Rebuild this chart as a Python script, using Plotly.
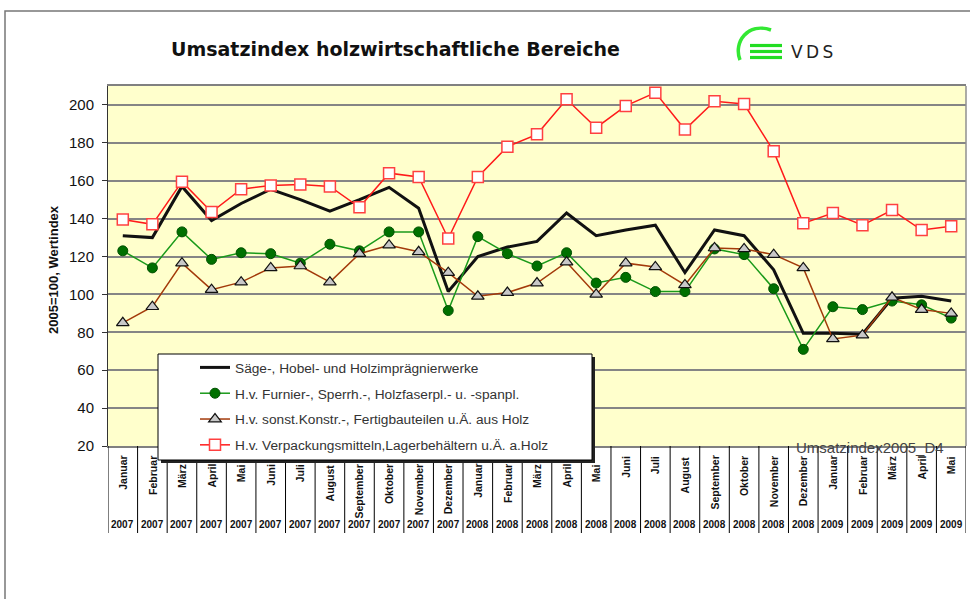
import plotly.graph_objects as go

months = ["Januar", "Februar", "März", "April", "Mai", "Juni", "Juli", "August",
          "September", "Oktober", "November", "Dezember",
          "Januar", "Februar", "März", "April", "Mai", "Juni", "Juli", "August",
          "September", "Oktober", "November", "Dezember",
          "Januar", "Februar", "März", "April", "Mai"]
years = ["2007"] * 12 + ["2008"] * 12 + ["2009"] * 5

saege = [131, 130, 157, 139, 148, 155.5, 150, 144, 150, 156.5, 145.5, 101.5,
         120, 125, 128, 143, 131, 134, 136.5, 111.5, 134, 131, 113, 79.5,
         79.5, 79, 98, 99, 96.5]
furnier = [123, 114, 133, 118.5, 122, 121.5, 116.5, 126.5, 123, 133, 133, 91.5,
           130.5, 121.5, 115, 122, 106, 109, 101.5, 101.5, 124, 121, 103, 71,
           93.5, 92, 96.5, 94.5, 87.5]
konstr = [85, 93.5, 116.5, 102.5, 106.5, 114, 115, 106.5, 121.5, 126, 122.5, 111.5,
          99, 101, 106, 117, 100, 116.5, 114.5, 105, 124.5, 124, 121, 114,
          76.5, 78.5, 98.5, 92, 90]
verpack = [139.5, 137, 159.5, 143.5, 155.5, 157.5, 158, 157, 146, 164, 162, 129.5,
           162, 178, 184.5, 203, 188, 199.5, 206.5, 187, 202, 200.5, 175.5, 137.5,
           143, 136.5, 144.5, 134, 136]

names = ["Säge-, Hobel- und Holzimprägnierwerke",
         "H.v. Furnier-, Sperrh.-, Holzfaserpl.- u. -spanpl.",
         "H.v. sonst.Konstr.-, Fertigbauteilen u.Ä. aus Holz",
         "H.v. Verpackungsmitteln,Lagerbehältern u.Ä. a.Holz"]

W, H = 970, 599
L, R, T, B = 108, 966, 86, 446


def xp(px):
    return (px - L) / (R - L)


def yp(py):
    return (B - py) / (B - T)


xs = list(range(len(months)))
fig = go.Figure()
fig.add_trace(go.Scatter(x=xs, y=saege, name=names[0], mode="lines",
                         line=dict(color="#111111", width=3), legendgroup="a"))
fig.add_trace(go.Scatter(x=xs, y=furnier, name=names[1], mode="lines+markers",
                         line=dict(color="#1a9a1a", width=1.5),
                         marker=dict(symbol="circle", size=10, color="#007000",
                                     line=dict(color="#005000", width=1)),
                         legendgroup="b"))
fig.add_trace(go.Scatter(x=xs, y=konstr, name=names[2], mode="lines+markers",
                         line=dict(color="#a33a0a", width=1.5),
                         marker=dict(symbol="triangle-up", size=11, color="#c8c8c8",
                                     line=dict(color="#111111", width=1.2)),
                         legendgroup="c"))
fig.add_trace(go.Scatter(x=xs, y=verpack, name=names[3], mode="lines+markers",
                         line=dict(color="#ff1a1a", width=1.5),
                         marker=dict(symbol="square", size=11, color="white",
                                     line=dict(color="#ff4040", width=1.5)),
                         legendgroup="d"))

lx0, lx1, ly0, ly1 = 158, 592, 354, 460

shapes = []
# outer frame
shapes.append(dict(type="rect", xref="paper", yref="paper",
                   x0=xp(5), x1=xp(990), y0=yp(620), y1=yp(11),
                   line=dict(color="#777777", width=1.5), layer="below"))
# right border of plot
shapes.append(dict(type="line", xref="paper", yref="paper",
                   x0=1, x1=1, y0=0, y1=1, line=dict(color="#909090", width=1.5)))
# category separators
for i in range(len(months) + 1):
    shapes.append(dict(type="line", xref="x", yref="paper",
                       x0=i - 0.5, x1=i - 0.5, y0=0, y1=yp(533),
                       line=dict(color="#000000", width=1)))
# legend box with shadow
shapes.append(dict(type="rect", xref="paper", yref="paper",
                   x0=xp(lx0 + 3), x1=xp(lx1 + 3), y0=yp(ly1 + 3), y1=yp(ly0 + 3),
                   fillcolor="#222222", line=dict(width=0), layer="above"))
shapes.append(dict(type="rect", xref="paper", yref="paper",
                   x0=xp(lx0), x1=xp(lx1), y0=yp(ly1), y1=yp(ly0),
                   fillcolor="white", line=dict(color="#000000", width=1), layer="above"))
# VDS logo
shapes.append(dict(type="path", xref="paper", yref="paper",
                   path=f"M {xp(771)},{yp(30)} C {xp(748)},{yp(22)} {xp(733)},{yp(42)} {xp(740)},{yp(60)}",
                   line=dict(color="#33e833", width=3.5)))
for yy in (45.5, 51.5, 57.5):
    shapes.append(dict(type="rect", xref="paper", yref="paper",
                       x0=xp(750), x1=xp(782), y0=yp(yy + 1.6), y1=yp(yy - 1.6),
                       fillcolor="#22dd22", line=dict(width=0)))

annotations = []
annotations.append(dict(text="<b>Umsatzindex holzwirtschaftliche Bereiche</b>",
                        xref="paper", yref="paper", x=xp(395), y=yp(49),
                        xanchor="center", yanchor="middle",
                        showarrow=False, font=dict(family="DejaVu Sans", size=19, color="#111111")))
annotations.append(dict(text="V&#8201;D&#8201;S", xref="paper", yref="paper", x=xp(789), y=yp(52),
                        xanchor="left", yanchor="middle", showarrow=False,
                        font=dict(family="DejaVu Sans", size=17, color="#222222")))
annotations.append(dict(text="<b>2005=100, Wertindex</b>", xref="paper", yref="paper",
                        x=xp(53), y=yp(270), xanchor="center", yanchor="middle",
                        textangle=-90, showarrow=False,
                        font=dict(family="Liberation Sans", size=13, color="#111111")))
annotations.append(dict(text="Umsatzindex2005_D4", xref="paper", yref="paper",
                        x=xp(870), y=yp(447), xanchor="center", yanchor="middle",
                        showarrow=False,
                        font=dict(family="Liberation Sans", size=15, color="#444444")))
for i, (m, y) in enumerate(zip(months, years)):
    top = 454
    if lx0 <= L + (i + 0.5) * (R - L) / len(months) - 5 <= lx1 + 5:
        top = 462
    annotations.append(dict(text=f"<b>{m}</b>", xref="x", yref="paper", x=i, y=yp(top),
                            xanchor="center", yanchor="top", textangle=-90, showarrow=False,
                            font=dict(family="Liberation Sans", size=10.5, color="#111111")))
    annotations.append(dict(text=f"<b>{y}</b>", xref="x", yref="paper", x=i, y=yp(524),
                            xanchor="center", yanchor="middle", showarrow=False,
                            font=dict(family="Liberation Sans", size=10, color="#111111")))

fig.update_layout(
    width=W, height=H,
    margin=dict(l=L, r=W - R, t=T, b=H - B),
    paper_bgcolor="white",
    plot_bgcolor="#ffffcc",
    font=dict(family="Liberation Sans", color="#111111"),
    showlegend=True,
    legend=dict(x=xp(lx0), y=yp(352), xanchor="left", yanchor="top",
                bgcolor="rgba(0,0,0,0)", borderwidth=0, itemwidth=30,
                indentation=37, traceorder="grouped", tracegroupgap=5,
                font=dict(family="Liberation Sans", size=13.7, color="#333333")),
    xaxis=dict(range=[-0.5, len(months) - 0.5], showticklabels=False, showgrid=False,
               zeroline=False, showline=True, linecolor="#808080", linewidth=1.5,
               mirror=True, ticks=""),
    yaxis=dict(range=[20, 210], tickvals=list(range(20, 201, 20)), showgrid=True,
               gridcolor="#858585", gridwidth=1.8, zeroline=False, showline=True,
               linecolor="#333333", linewidth=1, ticks="outside", ticklen=5,
               ticklabelstandoff=5,
               tickcolor="#333333", tickfont=dict(size=15, color="#111111")),
    shapes=shapes,
    annotations=annotations,
)

fig.write_html("out.html", config={"displayModeBar": False},
               post_script="document.body.style.margin='0px';")
